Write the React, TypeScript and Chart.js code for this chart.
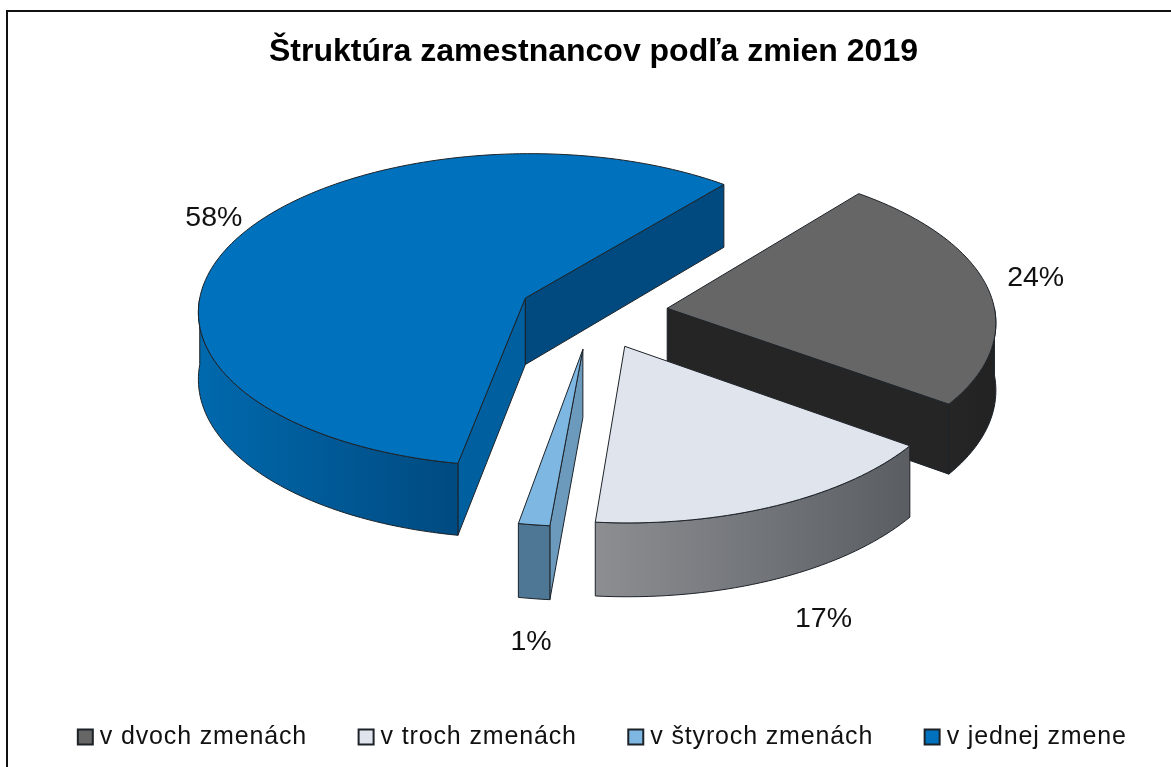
import React, { useEffect, useRef } from "react";
import { Chart, registerables } from "chart.js";

Chart.register(...registerables);

const TITLE = "Štruktúra zamestnancov podľa zmien 2019";
const categories = ["v dvoch zmenách", "v troch zmenách", "v štyroch zmenách", "v jednej zmene"];
const shares = [24, 16.5, 1.4, 58.1];
const percentLabels = ["24%", "17%", "1%", "58%"];

const topColors = ["#666666", "#E0E4EC", "#7EB7E2", "#0071BC"];
const startFaceColors = ["#252525", "#5E6266", "#6C9ABD", "#00609F"];
const endFaceColors = ["#252525", "#5E6266", "#6C9ABD", "#004A80"];
const rimLeftColors = ["#262626", "#8C8E92", "#4E7796", "#0069AD"];
const rimRightColors = ["#222222", "#5A5E62", "#4E7796", "#004A80"];
const labelNudges = [[48, -10], [47, 113], [-3, 117], [-27, -17]];
const paintOrder = [3, 0, 2, 1];

const CX = 593;
const CY = 313;
const TILT = 0.4807;
const PERSPECTIVE = 0.000234;
const DEPTH = 67;
const RADIUS = 328;
const EXPLODE = 75;
const OUTLINE = "#1c2228";
const LEGEND_SPACING = "0.85px";

function project(u: number, v: number, z: number): [number, number] {
  const w = 1 / (1 - PERSPECTIVE * v);
  return [CX + u * w, CY + (TILT * v + z) * w];
}

function fillPath(ctx: CanvasRenderingContext2D, pts: [number, number][], fill: any) {
  ctx.beginPath();
  pts.forEach(([x, y], i) => (i ? ctx.lineTo(x, y) : ctx.moveTo(x, y)));
  ctx.closePath();
  ctx.fillStyle = fill;
  ctx.fill();
  ctx.lineWidth = 1;
  ctx.strokeStyle = OUTLINE;
  ctx.lineJoin = "round";
  ctx.stroke();
}

function sliceGeometry(arc: any) {
  const { startAngle, endAngle, outerRadius } = arc.getProps(["startAngle", "endAngle", "outerRadius"], true);
  const off = arc.options.offset;
  const mid = (startAngle + endAngle) / 2;
  return { startAngle, endAngle, outerRadius, mid, ox: Math.cos(mid) * off, oy: Math.sin(mid) * off };
}

const pie3d = {
  id: "pie3d",
  beforeDraw(chart: any) {
    const ctx = chart.ctx;
    ctx.save();
    ctx.strokeStyle = "#111111";
    ctx.lineWidth = 2;
    ctx.strokeRect(7, 11, 1400, 1000);
    ctx.restore();
  },
  beforeLayout(chart: any) {
    chart.ctx.letterSpacing = LEGEND_SPACING;
  },
  afterLayout(chart: any) {
    const ctx = chart.ctx;
    ctx.letterSpacing = "0px";
    const lg = chart.legend;
    if (lg) {
      const dx = 19.5;
      const top = 667.5;
      lg.left += dx;
      lg.right += dx;
      lg.bottom += top - lg.top;
      lg.top = top;
      if (!lg.__wrapped) {
        const draw = lg.draw.bind(lg);
        lg.draw = () => {
          ctx.save();
          ctx.letterSpacing = LEGEND_SPACING;
          draw();
          ctx.restore();
        };
        lg.__wrapped = true;
      }
    }
    const t = chart.titleBlock;
    if (t) {
      t.left += 8;
      t.right += 8;
    }
  },
  beforeDatasetsDraw(chart: any) {
    const ctx: CanvasRenderingContext2D = chart.ctx;
    const arcs = chart.getDatasetMeta(0).data;
    ctx.save();
    paintOrder.forEach((i) => {
      const g = sliceGeometry(arcs[i]);
      const rimPoint = (a: number, z: number) =>
        project(g.ox + g.outerRadius * Math.cos(a), g.oy + g.outerRadius * Math.sin(a), z);
      const apex = (z: number) => project(g.ox, g.oy, z);

      // radial walls that face the viewer
      if (-Math.cos(g.startAngle) > 0) {
        fillPath(ctx, [apex(0), rimPoint(g.startAngle, 0), rimPoint(g.startAngle, DEPTH), apex(DEPTH)], startFaceColors[i]);
      }
      if (Math.cos(g.endAngle) > 0) {
        fillPath(ctx, [apex(0), rimPoint(g.endAngle, 0), rimPoint(g.endAngle, DEPTH), apex(DEPTH)], endFaceColors[i]);
      }

      // front part of the round wall
      const TAU = Math.PI * 2;
      let a0 = g.startAngle;
      let a1 = g.endAngle;
      while (a0 < -Math.PI) { a0 += TAU; a1 += TAU; }
      const from = Math.max(a0, 0);
      const to = Math.min(a1, Math.PI);
      if (to > from) {
        const n = Math.max(4, Math.ceil((to - from) * 40));
        const upper: [number, number][] = [];
        const lower: [number, number][] = [];
        for (let s = 0; s <= n; s++) {
          const a = from + ((to - from) * s) / n;
          upper.push(rimPoint(a, 0));
          lower.unshift(rimPoint(a, DEPTH));
        }
        const all = upper.concat(lower);
        const xs = all.map((p) => p[0]);
        const grad = ctx.createLinearGradient(Math.min(...xs), 0, Math.max(...xs), 0);
        grad.addColorStop(0, rimLeftColors[i]);
        grad.addColorStop(1, rimRightColors[i]);
        fillPath(ctx, all, grad);
      }

      // top face
      const n = Math.max(4, Math.ceil((g.endAngle - g.startAngle) * 40));
      const top: [number, number][] = [apex(0)];
      for (let s = 0; s <= n; s++) {
        top.push(rimPoint(g.startAngle + ((g.endAngle - g.startAngle) * s) / n, 0));
      }
      fillPath(ctx, top, arcs[i].options.backgroundColor);
    });

    // percentage labels
    ctx.font = '28.5px "Liberation Sans"';
    ctx.fillStyle = "#111111";
    ctx.textAlign = "center";
    ctx.textBaseline = "middle";
    arcs.forEach((arc: any, i: number) => {
      const g = sliceGeometry(arc);
      const [x, y] = project(g.ox + g.outerRadius * Math.cos(g.mid), g.oy + g.outerRadius * Math.sin(g.mid), 0);
      ctx.fillText(percentLabels[i], x + labelNudges[i][0], y + labelNudges[i][1]);
    });
    ctx.restore();
    return false;
  },
};

export default function App() {
  const ref = useRef<HTMLCanvasElement | null>(null);
  useEffect(() => {
    document.body.style.margin = "0";
    const chart = new Chart(ref.current as HTMLCanvasElement, {
      type: "pie",
      data: {
        labels: categories,
        datasets: [
          {
            data: shares,
            backgroundColor: topColors,
            borderColor: "#1c2228",
            borderWidth: 2,
            offset: EXPLODE,
          },
        ],
      },
      options: {
        responsive: false,
        animation: false,
        rotation: 39.3,
        radius: RADIUS,
        plugins: {
          tooltip: { enabled: false },
          title: {
            display: true,
            text: TITLE,
            color: "#000000",
            font: { family: '"Liberation Sans"', size: 32, weight: "bold" },
            padding: { top: 33, bottom: 10 },
          },
          legend: {
            position: "bottom",
            labels: {
              color: "#111111",
              font: { family: '"Liberation Sans"', size: 25 },
              usePointStyle: true,
              pointStyle: "rect",
              boxWidth: 4,
              boxHeight: 15,
              padding: 57,
            },
          },
        },
      },
      plugins: [pie3d],
    } as any);
    return () => chart.destroy();
  }, []);
  return <canvas ref={ref} width={1171} height={767} style={{ display: "block" }} />;
}
